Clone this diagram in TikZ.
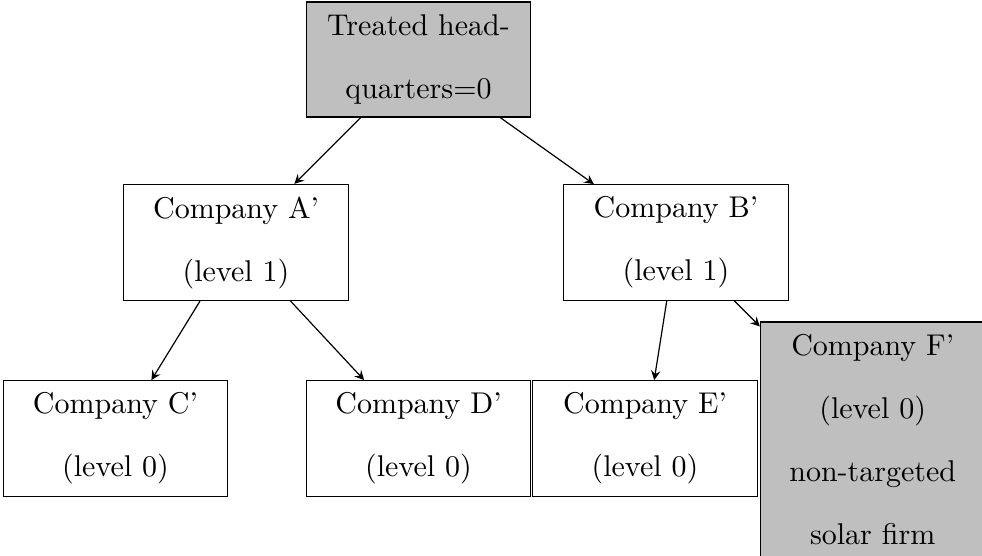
\documentclass[tikz,border=0pt]{standalone}
\usetikzlibrary{arrows}

\tikzset{
    firm/.style={draw, align=center, minimum width=2.63cm, minimum height=38.3pt, inner sep=4pt},
    treated/.style={firm, fill=lightgray}
}

\begin{document}
\begin{tikzpicture}[>=stealth]

    % Page frame (origin at the top left corner)
    \useasboundingbox (0,0) rectangle (11.504,-6.502);

    % Headquarters and level 1 companies
    \node[treated] (HQ) at (4.903,-0.697) {Treated head-\\[9pt]quarters$=$0};
    \node[firm] (A) at (2.765,-2.841) {Company A'\\[9pt](level 1)};
    \node[firm] (B) at (7.919,-2.841) {Company B'\\[9pt](level 1)};

    % Level 0 companies
    \node[firm] (C) at (1.353,-5.137) {Company C'\\[9pt](level 0)};
    \node[firm] (D) at (4.903,-5.137) {Company D'\\[9pt](level 0)};
    \node[firm] (E) at (7.556,-5.137) {Company E'\\[9pt](level 0)};
    \node[treated, anchor=north] (F) at (10.224,-3.766) {Company F'\\[9pt](level 0)\\[9pt]non-targeted\\[9pt]solar firm};

    % Ownership links
    \draw[->] (HQ) -- (A);
    \draw[->] (HQ) -- (B);
    \draw[->] (A) -- (C);
    \draw[->] (A) -- (D);
    \draw[->] (B) -- (E);
    \draw[->] (B) -- (F);

\end{tikzpicture}
\end{document}
